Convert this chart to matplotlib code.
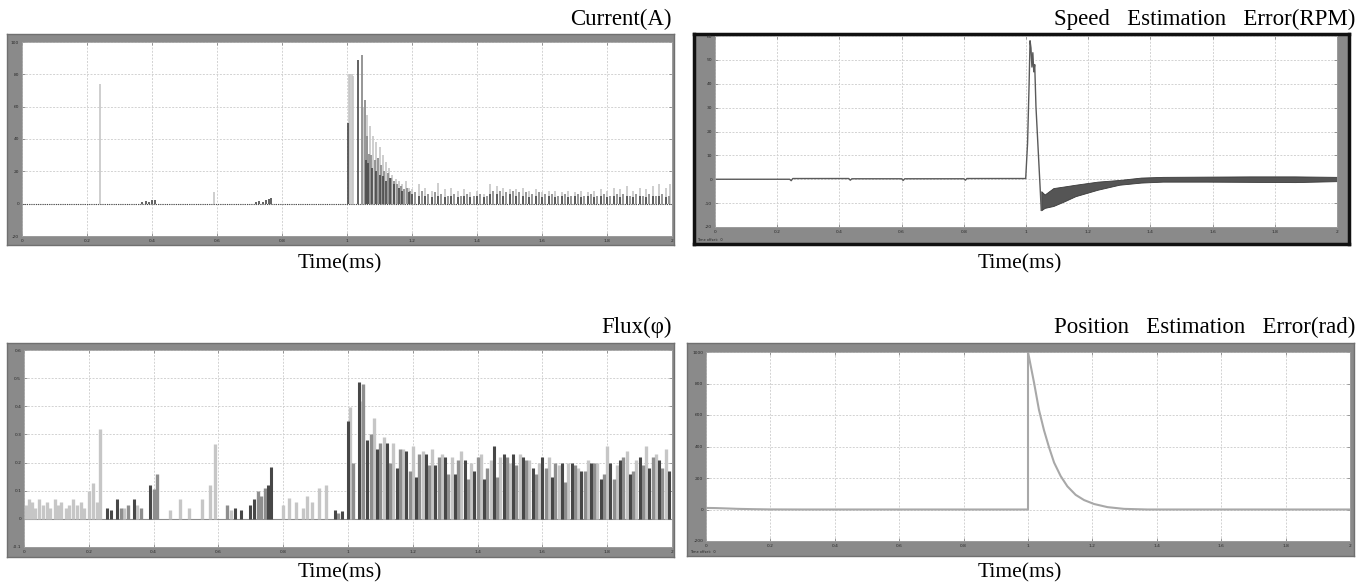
import matplotlib
matplotlib.use("Agg")
import matplotlib.pyplot as plt

# ---------------- data ----------------
time_ticks = [0, 0.2, 0.4, 0.6, 0.8, 1.0, 1.2, 1.4, 1.6, 1.8, 2.0]
time_tick_labels = ["0", "0.2", "0.4", "0.6", "0.8", "1", "1.2", "1.4", "1.6", "1.8", "2"]

# Current(A): three phase traces drawn as spikes from 0
cur_ticks = [-20, 0, 20, 40, 60, 80, 100]
cur_light_t = [0.239, 0.59, 1.006, 1.010, 1.014, 1.018, 1.05, 1.06, 1.07, 1.08, 1.09, 1.10, 1.11, 1.12,
               1.13, 1.14, 1.15, 1.16, 1.17, 1.18, 1.19, 1.20, 1.22, 1.24, 1.26, 1.28, 1.30, 1.32, 1.34,
               1.36, 1.38, 1.40, 1.42, 1.44, 1.46, 1.48, 1.50, 1.52, 1.54, 1.56, 1.58, 1.60, 1.62, 1.64,
               1.66, 1.68, 1.70, 1.72, 1.74, 1.76, 1.78, 1.80, 1.82, 1.84, 1.86, 1.88, 1.90, 1.92, 1.94,
               1.96, 1.98, 1.995]
cur_light_h = [74, 7, 80, 80, 80, 79, 60, 55, 48, 42, 38, 35, 30, 26, 22, 18, 15, 14, 12, 14, 10, 9,
               12, 10, 8, 13, 9, 10, 8, 9, 7, 8, 6, 12, 11, 10, 9, 9, 10, 8, 9, 7, 8, 8, 7, 8, 7, 8, 7,
               8, 9, 8, 10, 9, 11, 8, 10, 9, 11, 12, 10, 12]
cur_mid_t = [1.045, 1.055, 1.062, 1.068, 1.075, 1.085, 1.095, 1.105, 1.115, 1.125, 1.135, 1.145, 1.155,
             1.165, 1.175, 1.185, 1.195, 1.21, 1.23, 1.25, 1.27, 1.29, 1.31, 1.33, 1.35, 1.37, 1.39, 1.41,
             1.43, 1.45, 1.47, 1.49, 1.51, 1.53, 1.55, 1.57, 1.59, 1.61, 1.63, 1.65, 1.67, 1.69, 1.71,
             1.73, 1.75, 1.77, 1.79, 1.81, 1.83, 1.85, 1.87, 1.89, 1.91, 1.93, 1.95, 1.97, 1.99]
cur_mid_h = [92, 64, 42, 31, 30, 27, 28, 24, 20, 19, 16, 14, 12, 11, 9, 10, 8,
             7, 8, 6, 7, 6, 5, 6, 5, 6, 5, 6, 5, 8, 8, 7, 8, 7, 7, 6, 7, 6, 6, 5, 6, 5, 6, 5, 6, 5, 6,
             5, 6, 6, 5, 6, 5, 6, 5, 6, 5]
cur_dark_t = [0.37, 0.38, 0.39, 0.40, 0.41, 0.72, 0.73, 0.74, 0.75, 0.76, 0.765, 1.003, 1.034, 1.058,
              1.065, 1.078, 1.09, 1.10, 1.112, 1.12, 1.132, 1.145, 1.16, 1.17, 1.19, 1.20, 1.22, 1.24,
              1.26, 1.28, 1.30, 1.32, 1.34, 1.36, 1.38, 1.40, 1.42, 1.44, 1.46, 1.48, 1.50, 1.52, 1.54,
              1.56, 1.58, 1.60, 1.62, 1.64, 1.66, 1.68, 1.70, 1.72, 1.74, 1.76, 1.78, 1.80, 1.82, 1.84,
              1.86, 1.88, 1.90, 1.92, 1.94, 1.96, 1.98]
cur_dark_h = [1, 1.5, 1, 2, 2.5, 1, 1.5, 1, 2, 3, 3.5, 50, 89, 27, 25, 22, 20, 18, 17, 14, 16, 12, 10,
              8, 7, 6, 5, 5, 4, 5, 4, 5, 4, 5, 4, 5, 4, 6, 6, 5, 6, 5, 5, 4, 5, 4, 5, 4, 5, 4, 5, 4, 5,
              4, 5, 4, 5, 4, 5, 4, 5, 4, 5, 5, 4]

# Speed Estimation Error(RPM)
spd_ticks = [-20, -10, 0, 10, 20, 30, 40, 50, 60]
spd_t = [0, 0.24, 0.245, 0.25, 0.43, 0.435, 0.44, 0.6, 0.605, 0.61, 0.8, 0.805, 0.81, 0.999, 1.005,
         1.01, 1.013, 1.016, 1.019, 1.022, 1.025, 1.028, 1.032, 1.039, 1.046, 1.049]
spd_v = [0, 0, -0.6, 0.3, 0.3, -0.4, 0.2, 0.2, -0.5, 0.2, 0.2, -0.4, 0.3, 0.3, 15, 40, 58, 55, 47, 53,
         45, 48, 30.5, 12.7, -5, -13]
spd_band_t = [1.049, 1.06, 1.088, 1.124, 1.159, 1.23, 1.30, 1.37, 1.44, 1.58, 1.72, 1.865, 2.0]
spd_band_lo = [-13, -12, -11.2, -9.2, -7.1, -4.4, -2.3, -1.4, -1.0, -1.0, -1.1, -1.2, -0.8]
spd_band_hi = [-5, -6.4, -3.7, -3.0, -2.3, -1.0, -0.3, 0.7, 1.0, 1.1, 1.2, 1.2, 1.0]

# Flux
flux_ticks = [-0.1, 0, 0.1, 0.2, 0.3, 0.4, 0.5, 0.6]
flux_light_t = [0.005, 0.015, 0.025, 0.035, 0.045, 0.06, 0.07, 0.08, 0.095, 0.105, 0.115, 0.13, 0.14,
                0.15, 0.165, 0.175, 0.185, 0.2, 0.212, 0.225, 0.236, 0.31, 0.35, 0.45, 0.48, 0.51, 0.55,
                0.574, 0.588, 0.64, 0.8, 0.818, 0.84, 0.86, 0.872, 0.89, 0.912, 0.932, 1.007, 1.04,
                1.08, 1.11, 1.14, 1.17, 1.20, 1.23, 1.26, 1.29, 1.32, 1.35, 1.38, 1.41, 1.44, 1.47, 1.50,
                1.53, 1.56, 1.59, 1.62, 1.65, 1.68, 1.71, 1.74, 1.77, 1.80, 1.83, 1.86, 1.89, 1.92, 1.95,
                1.98]
flux_light_h = [0.05, 0.07, 0.06, 0.04, 0.07, 0.05, 0.06, 0.04, 0.07, 0.05, 0.06, 0.04, 0.05, 0.07,
                0.05, 0.06, 0.04, 0.10, 0.128, 0.06, 0.318, 0.04, 0.05, 0.03, 0.07, 0.04, 0.07, 0.12,
                0.265, 0.03, 0.05, 0.075, 0.06, 0.04, 0.08, 0.06, 0.11, 0.12, 0.396, 0.42,
                0.36, 0.29, 0.27, 0.25, 0.26, 0.24, 0.25, 0.23, 0.22, 0.24, 0.2, 0.23, 0.21, 0.22, 0.2,
                0.23, 0.21, 0.2, 0.22, 0.19, 0.2, 0.18, 0.21, 0.2, 0.26, 0.19, 0.24, 0.21, 0.26, 0.23,
                0.25]
flux_mid_t = [0.30, 0.32, 0.36, 0.40, 0.41, 0.626, 0.723, 0.733, 0.743, 0.97, 1.015, 1.047,
              1.07, 1.10, 1.13, 1.16, 1.19, 1.22, 1.25, 1.28, 1.31, 1.34, 1.37, 1.40, 1.43, 1.46, 1.49,
              1.52, 1.55, 1.58, 1.61, 1.64, 1.67, 1.70, 1.73, 1.76, 1.79, 1.82, 1.85, 1.88, 1.91, 1.94,
              1.97]
flux_mid_h = [0.04, 0.05, 0.04, 0.107, 0.158, 0.048, 0.10, 0.08, 0.11, 0.02, 0.2, 0.479,
              0.3, 0.27, 0.2, 0.25, 0.17, 0.23, 0.19, 0.22, 0.16, 0.21, 0.14, 0.22, 0.18, 0.15, 0.22,
              0.19, 0.21, 0.16, 0.18, 0.2, 0.13, 0.19, 0.17, 0.2, 0.16, 0.14, 0.22, 0.17, 0.19, 0.22,
              0.18]
flux_dark_t = [0.255, 0.27, 0.288, 0.338, 0.39, 0.65, 0.67, 0.696, 0.71, 0.753, 0.761, 0.96, 0.98,
               1.0, 1.034, 1.06, 1.09, 1.12, 1.15, 1.18, 1.21, 1.24, 1.27, 1.30, 1.33, 1.36, 1.39, 1.42,
               1.45, 1.48, 1.51, 1.54, 1.57, 1.60, 1.63, 1.66, 1.69, 1.72, 1.75, 1.78, 1.81, 1.84, 1.87,
               1.90, 1.93, 1.96, 1.99]
flux_dark_h = [0.04, 0.03, 0.07, 0.072, 0.12, 0.04, 0.03, 0.05, 0.07, 0.12, 0.184, 0.033, 0.027,
               0.348, 0.485, 0.28, 0.25, 0.27, 0.18, 0.24, 0.15, 0.23, 0.19, 0.22, 0.16, 0.21, 0.17,
               0.14, 0.26, 0.23, 0.23, 0.22, 0.18, 0.22, 0.15, 0.2, 0.2, 0.17, 0.2, 0.14, 0.2, 0.21,
               0.16, 0.22, 0.18, 0.21, 0.17]

# Position Estimation Error(rad)
pos_ticks = [-200, 0, 200, 400, 600, 800, 1000]
pos_t = [0, 0.03, 0.06, 0.10, 0.15, 0.20, 0.30, 1.0, 1.0, 1.0187, 1.034, 1.0497, 1.0653, 1.081,
         1.1015, 1.1223, 1.148, 1.174, 1.205, 1.247, 1.298, 1.371, 2.0]
pos_v = [10, 9, 7, 4, 2, 0.5, 0, 0, 1000, 806, 633, 503, 395, 298, 212, 147, 93, 60, 35, 15, 4, 0, 0]

titles = ["Current(A)", "Speed   Estimation   Error(RPM)", "Flux(\u03c6)",
          "Position   Estimation   Error(rad)"]
xlabel = "Time(ms)"

# ---------------- layout helpers ----------------
W, H = 1363, 586
fig = plt.figure(figsize=(W / 100, H / 100), dpi=100)
fig.patch.set_facecolor("white")


def box(x0, y0, x1, y1):
    return [x0 / W, 1 - y1 / H, (x1 - x0) / W, (y1 - y0) / H]


FRAME = "#8a8a8a"
LIGHT, MID, DARK = "#c6c6c6", "#8e8e8e", "#474747"


def make_panel(frame, white, ylim, yticks, ylabels, border="#707070", border_w=1.0):
    bg = fig.add_axes(box(*frame))
    bg.set_facecolor(FRAME)
    bg.set_xticks([])
    bg.set_yticks([])
    for s in bg.spines.values():
        s.set_color(border)
        s.set_linewidth(border_w)
    ax = fig.add_axes(box(*white))
    ax.set_facecolor("white")
    ax.set_xlim(0, 2)
    ax.set_ylim(*ylim)
    ax.set_xticks(time_ticks)
    ax.set_xticklabels(time_tick_labels)
    ax.set_yticks(yticks)
    ax.set_yticklabels(ylabels)
    ax.tick_params(direction="in", length=2.5, width=0.5, color="#777777",
                   labelsize=3.2, labelcolor="#2a2a2a", pad=2, right=True, top=True)
    ax.grid(True, color="#d2d2d2", linestyle=(0, (2, 1.5)), linewidth=0.7)
    ax.set_axisbelow(True)
    for s in ax.spines.values():
        s.set_color("#a0a0a0")
        s.set_linewidth(0.6)
    return ax


def fmt(v):
    return ("%g" % v)


# Panel geometry (pixels)
P1 = dict(frame=(7, 34, 674, 245), white=(22, 42, 672, 236))
P2 = dict(frame=(694, 34, 1349, 244), white=(715, 36, 1337, 227))
P3 = dict(frame=(7, 343, 674, 557), white=(24, 350, 672, 547))
P4 = dict(frame=(687, 343, 1354, 556), white=(706, 352, 1350, 541))

# ---- Current ----
ax1 = make_panel(P1["frame"], P1["white"], (-20, 100), cur_ticks, [fmt(v) for v in cur_ticks])
ax1.plot([0, 2], [0, 0], color=DARK, lw=0.8, ls=(0, (1, 1)))
ax1.vlines(cur_light_t, 0, cur_light_h, color=LIGHT, lw=1.2)
ax1.vlines(cur_mid_t, 0, cur_mid_h, color=MID, lw=1.3)
ax1.vlines(cur_dark_t, 0, cur_dark_h, color=DARK, lw=1.2)

# ---- Speed ----
ax2 = make_panel(P2["frame"], P2["white"], (-20, 60), spd_ticks, [fmt(v) for v in spd_ticks],
                 border="#111111", border_w=2.5)
ax2.plot(spd_t, spd_v, color="#5a5a5a", lw=1.0)
ax2.fill_between(spd_band_t, spd_band_lo, spd_band_hi, color="#555555", lw=0.6, edgecolor="#3a3a3a")

# ---- Flux ----
ax3 = make_panel(P3["frame"], P3["white"], (-0.1, 0.6), flux_ticks, [fmt(v) for v in flux_ticks])
ax3.plot([0, 2], [0, 0], color=MID, lw=0.8)
ax3.vlines(flux_light_t, 0, flux_light_h, color=LIGHT, lw=2.4)
ax3.vlines(flux_mid_t, 0, flux_mid_h, color=MID, lw=2.4)
ax3.vlines(flux_dark_t, 0, flux_dark_h, color=DARK, lw=2.2)

# ---- Position ----
ax4 = make_panel(P4["frame"], P4["white"], (-200, 1000), pos_ticks, [fmt(v) for v in pos_ticks])
ax4.plot(pos_t, pos_v, color="#a8a8a8", lw=1.5)

# small scope annotations in the gray strip
fig.text(697 / W, 1 - 241 / H, "Time offset:  0", fontsize=2.5, color="#222222")
fig.text(690 / W, 1 - 553 / H, "Time offset:  0", fontsize=2.5, color="#222222")

# ---- titles and axis labels ----
serif = ["Liberation Serif", "DejaVu Serif"]
title_pos = [(672, 19), (1355, 19), (672, 327), (1355, 327)]
for txt, (x, y) in zip(titles, title_pos):
    fig.text(x / W, 1 - y / H, txt, family=serif, fontsize=16.5, ha="right", va="center")
for x, y in [(340, 264), (1020, 264), (340, 573), (1020, 573)]:
    fig.text(x / W, 1 - y / H, xlabel, family=serif, fontsize=15.5, ha="center", va="center")

fig.savefig("out.png", dpi=100, facecolor="white")
